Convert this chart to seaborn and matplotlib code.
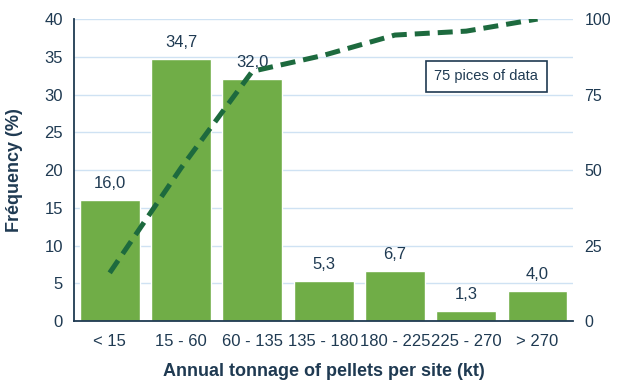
import numpy as np
import pandas as pd
import matplotlib
matplotlib.use("Agg")
import matplotlib.pyplot as plt
import seaborn as sns

categories = ["< 15", "15 - 60", "60 - 135", "135 - 180", "180 - 225", "225 - 270", "> 270"]
frequency = [16.0, 34.7, 32.0, 5.3, 6.7, 1.3, 4.0]
cumulative = np.cumsum(frequency)

text_col = "#1f3a52"
bar_col = "#70ad47"
line_col = "#1d6a3e"
grid_col = "#cfe2f3"

sns.set_theme(style="white")
plt.rcParams["font.family"] = ["Liberation Sans", "DejaVu Sans"]

df = pd.DataFrame({"cat": categories, "freq": frequency})

fig = plt.figure(figsize=(6.17, 3.81), dpi=100)
ax = fig.add_axes([0.12, 0.157, 0.809, 0.793])

sns.barplot(data=df, x="cat", y="freq", color=bar_col, saturation=1,
            width=0.84, ax=ax, zorder=2)
ax.set_ylim(0, 40)
ax.set_xlim(-0.5, 6.5)
ax.set_yticks(np.arange(0, 41, 5))
ax.yaxis.grid(True, color=grid_col, linewidth=1, zorder=0)
ax.set_axisbelow(True)

for i, v in enumerate(frequency):
    ax.text(i, v + 1.2, f"{v:.1f}".replace(".", ","), ha="center", va="bottom",
            fontsize=12, color=text_col)

for side in ["top", "right"]:
    ax.spines[side].set_visible(False)
for side in ["left", "bottom"]:
    ax.spines[side].set_color(text_col)
    ax.spines[side].set_linewidth(1.3)
ax.tick_params(axis="both", length=0, labelsize=12, labelcolor=text_col)
ax.tick_params(axis="y", pad=8)
ax.tick_params(axis="x", pad=9)
ax.set_xlabel("Annual tonnage of pellets per site (kt)", fontsize=13,
              fontweight="bold", color=text_col, labelpad=10)
ax.set_ylabel("Fréquency (%)", fontsize=13, fontweight="bold",
              color=text_col, labelpad=15)

ax2 = ax.twinx()
sns.lineplot(x=np.arange(len(categories)), y=cumulative, ax=ax2, color=line_col,
             linewidth=3.6, linestyle=(0, (3, 1.6)), zorder=3)
ax2.set_ylim(0, 100)
ax2.set_yticks([0, 25, 50, 75, 100])
ax2.set_ylabel("")
for side in ["top", "right", "left", "bottom"]:
    ax2.spines[side].set_visible(False)
ax2.tick_params(axis="y", length=0, labelsize=11.5, labelcolor=text_col, pad=8)

ax2.text(5.28, 81, "75 pices of data", ha="center", va="center",
         fontsize=10.5, color=text_col,
         bbox=dict(boxstyle="square,pad=0.6", facecolor="white",
                   edgecolor=text_col, linewidth=1.2))

fig.savefig("out.png", dpi=100)
